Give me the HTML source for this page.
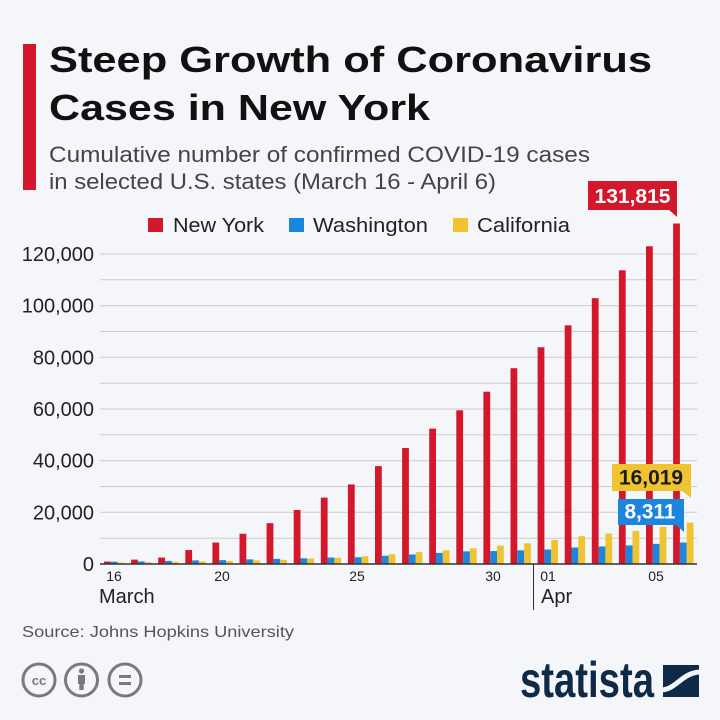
<!DOCTYPE html>
<html><head><meta charset="utf-8">
<style>
html,body{margin:0;padding:0;background:#f4f6fa;}
svg{display:block;font-family:"Liberation Sans",sans-serif;}
</style></head>
<body>
<svg width="720" height="720" viewBox="0 0 720 720" xmlns="http://www.w3.org/2000/svg">
<rect x="0" y="0" width="720" height="720" fill="#f4f6fa"/>
<!-- header -->
<rect x="23" y="44" width="13" height="146" fill="#d4182c"/>
<text x="49" y="72" font-size="36" font-weight="bold" fill="#111" textLength="603" lengthAdjust="spacingAndGlyphs">Steep Growth of Coronavirus</text>
<text x="49" y="120" font-size="36" font-weight="bold" fill="#111" textLength="381" lengthAdjust="spacingAndGlyphs">Cases in New York</text>
<text x="49" y="162" font-size="22" fill="#444" textLength="541" lengthAdjust="spacingAndGlyphs">Cumulative number of confirmed COVID-19 cases</text>
<text x="49" y="189" font-size="22" fill="#444" textLength="447" lengthAdjust="spacingAndGlyphs">in selected U.S. states (March 16 - April 6)</text>

<!-- legend -->
<rect x="148" y="218" width="15" height="14" fill="#d4182c"/>
<text x="173" y="232" font-size="20" fill="#222" textLength="91" lengthAdjust="spacingAndGlyphs">New York</text>
<rect x="289" y="218" width="15" height="14" fill="#1c86de"/>
<text x="313" y="232" font-size="20" fill="#222" textLength="115" lengthAdjust="spacingAndGlyphs">Washington</text>
<rect x="453" y="218" width="15" height="14" fill="#f0c330"/>
<text x="477" y="232" font-size="20" fill="#222" textLength="93" lengthAdjust="spacingAndGlyphs">California</text>

<!-- gridlines -->
<g stroke="#c9cbcf" stroke-width="1">
<line x1="100" x2="697" y1="538.2" y2="538.2"/>
<line x1="100" x2="697" y1="512.3" y2="512.3"/>
<line x1="100" x2="697" y1="486.5" y2="486.5"/>
<line x1="100" x2="697" y1="460.7" y2="460.7"/>
<line x1="100" x2="697" y1="434.8" y2="434.8"/>
<line x1="100" x2="697" y1="409" y2="409"/>
<line x1="100" x2="697" y1="383.2" y2="383.2"/>
<line x1="100" x2="697" y1="357.3" y2="357.3"/>
<line x1="100" x2="697" y1="331.5" y2="331.5"/>
<line x1="100" x2="697" y1="305.7" y2="305.7"/>
<line x1="100" x2="697" y1="279.8" y2="279.8"/>
<line x1="100" x2="697" y1="254" y2="254"/>
</g>

<!-- y labels -->
<g font-size="20" fill="#222" text-anchor="end">
<text x="94" y="261">120,000</text>
<text x="94" y="312.7">100,000</text>
<text x="94" y="364.3">80,000</text>
<text x="94" y="416">60,000</text>
<text x="94" y="467.7">40,000</text>
<text x="94" y="519.3">20,000</text>
<text x="94" y="571">0</text>
</g>

<!-- bars -->
<g>
<g transform="translate(104,564)"><rect x="0" y="-2.45" width="6.8" height="2.45" fill="#d4182c"/><rect x="6.8" y="-2.32" width="6.8" height="2.32" fill="#1c86de"/><rect x="13.6" y="-1.29" width="6.8" height="1.29" fill="#f0c330"/></g>
<g transform="translate(131.1,564)"><rect x="0" y="-4.39" width="6.8" height="4.39" fill="#d4182c"/><rect x="6.8" y="-2.58" width="6.8" height="2.58" fill="#1c86de"/><rect x="13.6" y="-1.81" width="6.8" height="1.81" fill="#f0c330"/></g>
<g transform="translate(158.2,564)"><rect x="0" y="-6.46" width="6.8" height="6.46" fill="#d4182c"/><rect x="6.8" y="-3.1" width="6.8" height="3.1" fill="#1c86de"/><rect x="13.6" y="-2.07" width="6.8" height="2.07" fill="#f0c330"/></g>
<g transform="translate(185.3,564)"><rect x="0" y="-13.95" width="6.8" height="13.95" fill="#d4182c"/><rect x="6.8" y="-3.62" width="6.8" height="3.62" fill="#1c86de"/><rect x="13.6" y="-2.58" width="6.8" height="2.58" fill="#f0c330"/></g>
<g transform="translate(212.4,564)"><rect x="0" y="-21.44" width="6.8" height="21.44" fill="#d4182c"/><rect x="6.8" y="-3.87" width="6.8" height="3.87" fill="#1c86de"/><rect x="13.6" y="-3.1" width="6.8" height="3.1" fill="#f0c330"/></g>
<g transform="translate(239.5,564)"><rect x="0" y="-30.22" width="6.8" height="30.22" fill="#d4182c"/><rect x="6.8" y="-4.65" width="6.8" height="4.65" fill="#1c86de"/><rect x="13.6" y="-3.62" width="6.8" height="3.62" fill="#f0c330"/></g>
<g transform="translate(266.6,564)"><rect x="0" y="-40.82" width="6.8" height="40.82" fill="#d4182c"/><rect x="6.8" y="-5.17" width="6.8" height="5.17" fill="#1c86de"/><rect x="13.6" y="-4.13" width="6.8" height="4.13" fill="#f0c330"/></g>
<g transform="translate(293.7,564)"><rect x="0" y="-53.99" width="6.8" height="53.99" fill="#d4182c"/><rect x="6.8" y="-5.68" width="6.8" height="5.68" fill="#1c86de"/><rect x="13.6" y="-5.42" width="6.8" height="5.42" fill="#f0c330"/></g>
<g transform="translate(320.8,564)"><rect x="0" y="-66.39" width="6.8" height="66.39" fill="#d4182c"/><rect x="6.8" y="-6.46" width="6.8" height="6.46" fill="#1c86de"/><rect x="13.6" y="-6.2" width="6.8" height="6.2" fill="#f0c330"/></g>
<g transform="translate(347.9,564)"><rect x="0" y="-79.57" width="6.8" height="79.57" fill="#d4182c"/><rect x="6.8" y="-6.72" width="6.8" height="6.72" fill="#1c86de"/><rect x="13.6" y="-7.75" width="6.8" height="7.75" fill="#f0c330"/></g>
<g transform="translate(375,564)"><rect x="0" y="-97.91" width="6.8" height="97.91" fill="#d4182c"/><rect x="6.8" y="-8.27" width="6.8" height="8.27" fill="#1c86de"/><rect x="13.6" y="-9.82" width="6.8" height="9.82" fill="#f0c330"/></g>
<g transform="translate(402.1,564)"><rect x="0" y="-115.99" width="6.8" height="115.99" fill="#d4182c"/><rect x="6.8" y="-9.56" width="6.8" height="9.56" fill="#1c86de"/><rect x="13.6" y="-11.88" width="6.8" height="11.88" fill="#f0c330"/></g>
<g transform="translate(429.2,564)"><rect x="0" y="-135.37" width="6.8" height="135.37" fill="#d4182c"/><rect x="6.8" y="-11.11" width="6.8" height="11.11" fill="#1c86de"/><rect x="13.6" y="-13.69" width="6.8" height="13.69" fill="#f0c330"/></g>
<g transform="translate(456.3,564)"><rect x="0" y="-153.71" width="6.8" height="153.71" fill="#d4182c"/><rect x="6.8" y="-12.66" width="6.8" height="12.66" fill="#1c86de"/><rect x="13.6" y="-15.76" width="6.8" height="15.76" fill="#f0c330"/></g>
<g transform="translate(483.4,564)"><rect x="0" y="-172.31" width="6.8" height="172.31" fill="#d4182c"/><rect x="6.8" y="-12.92" width="6.8" height="12.92" fill="#1c86de"/><rect x="13.6" y="-18.34" width="6.8" height="18.34" fill="#f0c330"/></g>
<g transform="translate(510.5,564)"><rect x="0" y="-195.81" width="6.8" height="195.81" fill="#d4182c"/><rect x="6.8" y="-13.69" width="6.8" height="13.69" fill="#1c86de"/><rect x="13.6" y="-20.67" width="6.8" height="20.67" fill="#f0c330"/></g>
<g transform="translate(537.6,564)"><rect x="0" y="-216.74" width="6.8" height="216.74" fill="#d4182c"/><rect x="6.8" y="-14.47" width="6.8" height="14.47" fill="#1c86de"/><rect x="13.6" y="-24.02" width="6.8" height="24.02" fill="#f0c330"/></g>
<g transform="translate(564.7,564)"><rect x="0" y="-238.7" width="6.8" height="238.7" fill="#d4182c"/><rect x="6.8" y="-16.53" width="6.8" height="16.53" fill="#1c86de"/><rect x="13.6" y="-27.9" width="6.8" height="27.9" fill="#f0c330"/></g>
<g transform="translate(591.8,564)"><rect x="0" y="-265.82" width="6.8" height="265.82" fill="#d4182c"/><rect x="6.8" y="-17.57" width="6.8" height="17.57" fill="#1c86de"/><rect x="13.6" y="-30.48" width="6.8" height="30.48" fill="#f0c330"/></g>
<g transform="translate(618.9,564)"><rect x="0" y="-293.72" width="6.8" height="293.72" fill="#d4182c"/><rect x="6.8" y="-18.6" width="6.8" height="18.6" fill="#1c86de"/><rect x="13.6" y="-33.07" width="6.8" height="33.07" fill="#f0c330"/></g>
<g transform="translate(646,564)"><rect x="0" y="-317.75" width="6.8" height="317.75" fill="#d4182c"/><rect x="6.8" y="-20.15" width="6.8" height="20.15" fill="#1c86de"/><rect x="13.6" y="-37.2" width="6.8" height="37.2" fill="#f0c330"/></g>
<g transform="translate(673.1,564)"><rect x="0" y="-340.52" width="6.8" height="340.52" fill="#d4182c"/><rect x="6.8" y="-21.47" width="6.8" height="21.47" fill="#1c86de"/><rect x="13.6" y="-41.38" width="6.8" height="41.38" fill="#f0c330"/></g>
</g>

<!-- axis -->
<line x1="100" x2="697" y1="564" y2="564" stroke="#333" stroke-width="1.5"/>
<line x1="533.5" x2="533.5" y1="564" y2="610" stroke="#333" stroke-width="1"/>

<!-- x labels -->
<g font-size="14" fill="#222" text-anchor="middle">
<text x="114" y="581">16</text>
<text x="222" y="581">20</text>
<text x="357" y="581">25</text>
<text x="493" y="581">30</text>
<text x="548" y="581">01</text>
<text x="656" y="581">05</text>
</g>
<text x="99" y="603" font-size="20" fill="#222">March</text>
<text x="541" y="603" font-size="20" fill="#222">Apr</text>

<!-- annotations -->
<rect x="588" y="181" width="89" height="29" fill="#d4182c"/>
<polygon points="668,209 677,209 677,217" fill="#d4182c"/>
<text x="632.5" y="203" font-size="20" font-weight="bold" fill="#fff" text-anchor="middle" textLength="76" lengthAdjust="spacingAndGlyphs">131,815</text>

<rect x="612" y="464" width="79" height="27" fill="#f0c330"/>
<polygon points="681,490 691,490 691,498" fill="#f0c330"/>
<text x="651" y="484.5" font-size="21" font-weight="bold" fill="#1a1a1a" text-anchor="middle" textLength="64" lengthAdjust="spacingAndGlyphs">16,019</text>

<rect x="618" y="499" width="66" height="26" fill="#1c86de"/>
<polygon points="675,524 684,524 684,532" fill="#1c86de"/>
<text x="650" y="518.5" font-size="21" font-weight="bold" fill="#fff" text-anchor="middle" textLength="51" lengthAdjust="spacingAndGlyphs">8,311</text>

<!-- footer -->
<text x="22" y="637" font-size="16" fill="#555" textLength="272" lengthAdjust="spacingAndGlyphs">Source: Johns Hopkins University</text>

<g fill="none" stroke="#7a7a7a" stroke-width="3">
<circle cx="39" cy="680" r="16"/>
<circle cx="81.5" cy="680" r="16"/>
<circle cx="125" cy="680" r="16"/>
</g>
<text x="39" y="685" font-size="13" font-weight="bold" fill="#7a7a7a" text-anchor="middle">cc</text>
<circle cx="81.5" cy="671" r="2.6" fill="#7a7a7a"/>
<rect x="78" y="675" width="7" height="9" fill="#7a7a7a"/>
<rect x="79.3" y="683" width="4.4" height="7" fill="#7a7a7a"/>
<rect x="119" y="675" width="12" height="3" fill="#7a7a7a"/>
<rect x="119" y="682" width="12" height="3" fill="#7a7a7a"/>

<text x="520" y="697" font-size="50" font-weight="bold" fill="#0f2a47" textLength="134" lengthAdjust="spacingAndGlyphs">statista</text>
<rect x="663" y="665" width="36" height="32" fill="#0f2a47"/>
<path d="M661 690 C 676 690, 682 672, 701 672" stroke="#f4f6fa" stroke-width="5" fill="none"/>
</svg>
</body></html>
